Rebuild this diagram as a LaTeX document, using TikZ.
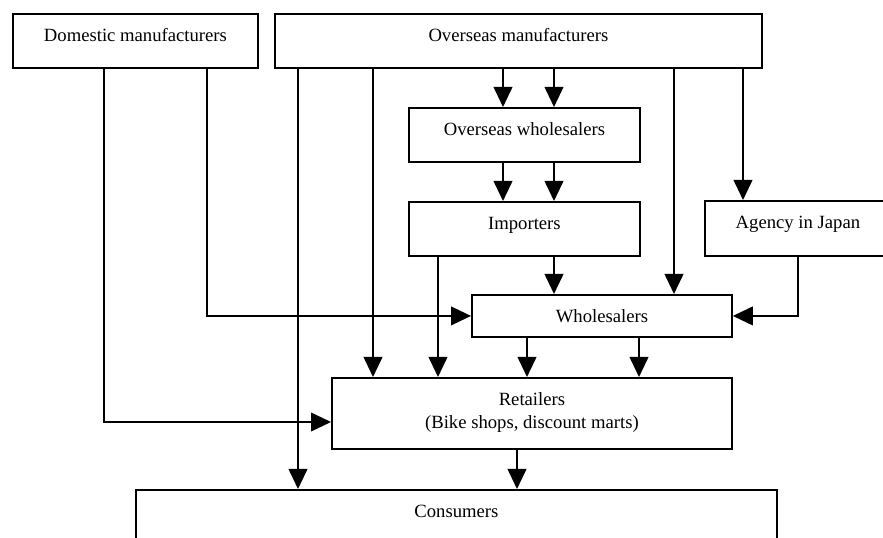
\documentclass[tikz,border=0pt]{standalone}
\usepackage{fontspec}
\setmainfont{Liberation Serif}
\usetikzlibrary{arrows.meta,positioning}
\tikzset{%
  chan/.style = {draw, line width=1.4pt, inner sep=0pt, anchor=north west,%
                 font=\fontsize{14}{17.25}\selectfont, text height=21pt},%
  flow/.style = {line width=1.4pt, -{Triangle[width=14pt,length=15pt]}}%
}
\begin{document}
\begin{tikzpicture}[x=0.75pt,y=-0.75pt]%
  \useasboundingbox (0,0) rectangle (883,538);%
  % boxes of the channel
  \node[chan, minimum width=183.75pt, text depth=19.5pt] (dom) at (12,13) {Domestic manufacturers};%
  \node[chan, minimum width=365.25pt, text depth=19.5pt] (om) at (274,13) {Overseas manufacturers};%
  \node[chan, minimum width=173.25pt, text depth=19.5pt] (ow) at (408,107) {Overseas wholesalers};%
  \node[chan, minimum width=173.25pt, text depth=19.5pt] (imp) at (408,201) {Importers};%
  \node[chan, minimum width=139.5pt, text depth=20.25pt] (ag) at (704,200) {Agency in Japan};%
  \node[chan, minimum width=195pt, text depth=10.5pt] (wh) at (471,294) {Wholesalers};%
  \node[chan, minimum width=300pt, text depth=32.25pt] (ret) at (331,377)%
    {\begin{tabular}[t]{@{}c@{}}Retailers\\(Bike shops, discount marts)\end{tabular}};%
  \node[chan, minimum width=480.75pt, text depth=21pt] (con) at (135,489) {Consumers};%
  % overseas manufacturers
  \draw[flow] (298,0 |- om.south) -- (298,0 |- con.north);%
  \draw[flow] (373,0 |- om.south) -- (373,0 |- ret.north);%
  \draw[flow] (503,0 |- om.south) -- (503,0 |- ow.north);%
  \draw[flow] (554,0 |- om.south) -- (554,0 |- ow.north);%
  \draw[flow] (674,0 |- om.south) -- (674,0 |- wh.north);%
  \draw[flow] (743,0 |- om.south) -- (743,0 |- ag.north);%
  % overseas wholesalers, importers, agency
  \draw[flow] (503,0 |- ow.south) -- (503,0 |- imp.north);%
  \draw[flow] (554,0 |- ow.south) -- (554,0 |- imp.north);%
  \draw[flow] (438,0 |- imp.south) -- (438,0 |- ret.north);%
  \draw[flow] (554,0 |- imp.south) -- (554,0 |- wh.north);%
  \draw[flow] (ag.south) |- (wh.east);%
  % domestic manufacturers
  \draw[flow] (207,0 |- dom.south) |- (wh.west);%
  \draw[flow] (104,0 |- dom.south) |- (ret.west |- 0,422);%
  % wholesalers and retailers
  \draw[flow] (527,0 |- wh.south) -- (527,0 |- ret.north);%
  \draw[flow] (639,0 |- wh.south) -- (639,0 |- ret.north);%
  \draw[flow] (517,0 |- ret.south) -- (517,0 |- con.north);%
\end{tikzpicture}
\end{document}
